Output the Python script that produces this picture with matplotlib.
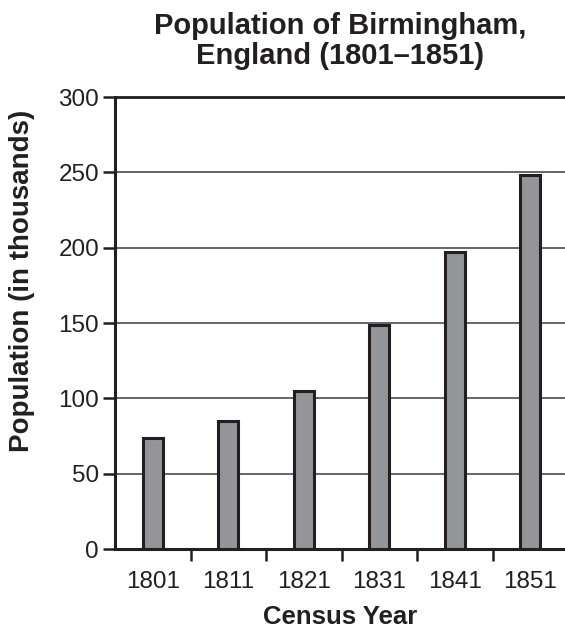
import matplotlib
matplotlib.use("Agg")
import matplotlib.pyplot as plt
import numpy as np

plt.rcParams["font.family"] = ["Liberation Sans", "DejaVu Sans"]

years = ["1801", "1811", "1821", "1831", "1841", "1851"]
population = [74, 85, 105, 149, 197, 248]   # thousands
yticks = [0, 50, 100, 150, 200, 250, 300]

INK = "#231f20"
BAR = "#939598"

fig = plt.figure(figsize=(5.65, 6.31), dpi=100)
ax = fig.add_axes([115 / 565, 82 / 631, 453 / 565, 452 / 631])

x = np.arange(len(years))
ax.bar(x, population, width=0.27, color=BAR, edgecolor=INK, linewidth=2.2, zorder=3)

ax.set_xlim(-0.5, len(years) - 0.5)
ax.set_ylim(0, 300)
ax.set_yticks(yticks)
ax.set_yticklabels([str(v) for v in yticks])
ax.grid(axis="y", color="#58595b", linewidth=1.3, zorder=0)

# separators between categories as major ticks, labels on minor ticks
ax.set_xticks(x[:-1] + 0.5)
ax.set_xticklabels([])
ax.set_xticks(x, minor=True)
ax.set_xticklabels(years, minor=True)
ax.tick_params(axis="x", which="major", length=8.5, width=1.8, color=INK, direction="out")
ax.tick_params(axis="x", which="minor", length=0, pad=16, labelsize=17.5, labelcolor=INK)
ax.tick_params(axis="y", length=8.5, width=1.8, color=INK, pad=3, labelsize=17.5, labelcolor=INK)

for s in ["left", "bottom"]:
    ax.spines[s].set_color(INK)
    ax.spines[s].set_linewidth(2.2)
ax.spines["top"].set_color(INK)
ax.spines["top"].set_linewidth(2.0)
ax.spines["right"].set_visible(False)

fig.text(340 / 565, 1 - 617 / 631, "Census Year", ha="center", va="center",
         fontsize=18.5, fontweight="bold", color=INK)
fig.text(22 / 565, 1 - 281 / 631, "Population (in thousands)", rotation=90,
         ha="center", va="center", fontsize=20, fontweight="bold", color=INK)
fig.text(340 / 565, 1 - 41 / 631, "Population of Birmingham,\nEngland (1801–1851)",
         ha="center", va="center", fontsize=21, fontweight="bold", color=INK,
         linespacing=1.12)

fig.savefig("out.png", dpi=100)
